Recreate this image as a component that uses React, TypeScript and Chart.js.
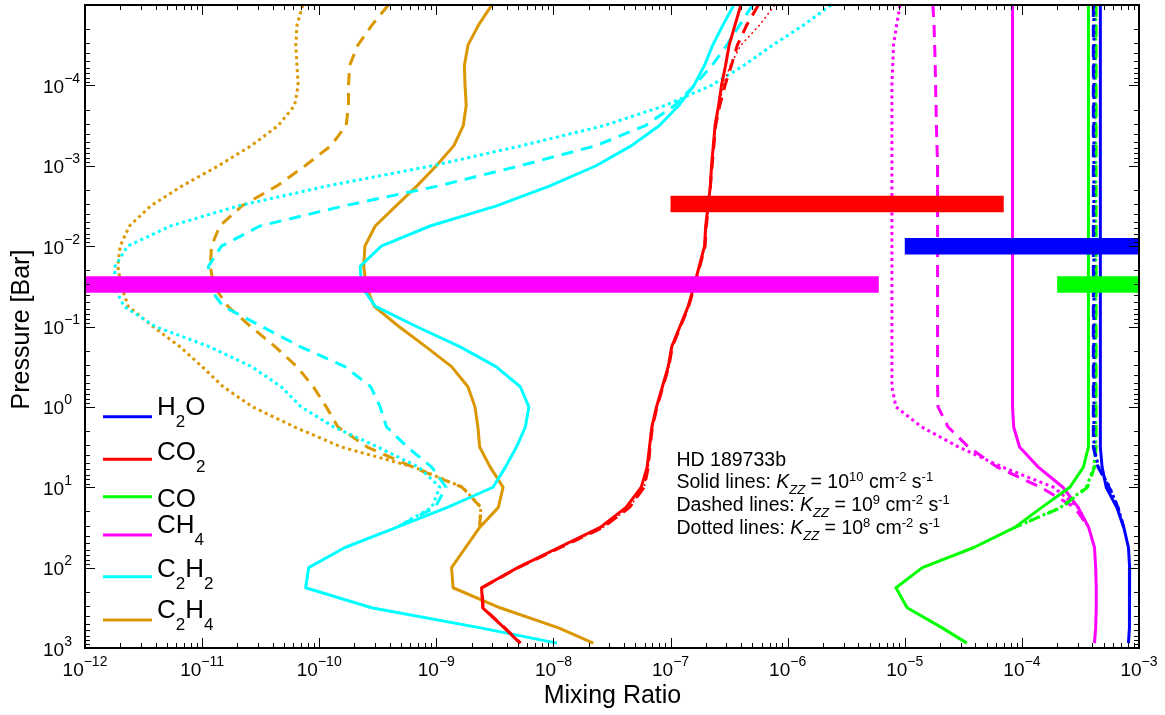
import React, { useEffect, useRef } from "react";
import { Chart, registerables } from "chart.js";

Chart.register(...registerables);

const FONT = '"Liberation Sans", Arial, Helvetica, sans-serif';

// Pressure levels (bar) shared by every model profile
const pressureBar = [
  1e-5, 1.78e-5, 3.16e-5, 5.62e-5, 1e-4, 1.78e-4, 3.16e-4, 5.62e-4, 1e-3, 1.78e-3, 3.16e-3,
  5.62e-3, 1e-2, 1.78e-2, 3.16e-2, 5.62e-2, 0.1, 0.178, 0.316, 0.562, 1, 1.78, 3.16, 5.62, 10,
  17.8, 31.6, 56.2, 100, 178, 316, 562, 870,
];

// Model profiles: log10(mixing ratio) at each pressure level, null where the profile is not drawn.
// Solid: Kzz = 1e10, dashed: Kzz = 1e9, dotted: Kzz = 1e8.
const h2oSolid = [
  -3.33, -3.33, -3.33, -3.33, -3.33, -3.33, -3.33, -3.33, -3.33, -3.33, -3.33, -3.33, -3.33, -3.33,
  -3.33, -3.33, -3.33, -3.33, -3.33, -3.33, -3.33, -3.33, -3.33, -3.315, -3.28, -3.19, -3.13, -3.09,
  -3.08, -3.08, -3.08, -3.085, -3.09,
];
const h2oDashed = [
  -3.39, -3.39, -3.39, -3.39, -3.39, -3.39, -3.39, -3.39, -3.39, -3.39, -3.39, -3.39, -3.39, -3.39,
  -3.39, -3.39, -3.39, -3.39, -3.39, -3.39, -3.39, -3.39, -3.39, -3.35, -3.255, -3.18, -3.13, null,
  null, null, null, null, null,
];
const h2oDotted = [
  -3.385, -3.385, -3.385, -3.385, -3.385, -3.385, -3.385, -3.385, -3.385, -3.385, -3.385, -3.385,
  -3.385, -3.385, -3.385, -3.385, -3.385, -3.385, -3.385, -3.385, -3.385, -3.385, -3.385, -3.345,
  -3.25, -3.18, -3.13, null, null, null, null, null, null,
];

const co2Solid = [
  -6.4, -6.45, -6.5, -6.53, -6.565, -6.59, -6.62, -6.635, -6.65, -6.66, -6.68, -6.7, -6.71, -6.755,
  -6.8, -6.85, -6.92, -6.99, -7.02, -7.07, -7.12, -7.16, -7.18, -7.2, -7.25, -7.38, -7.6, -7.955,
  -8.305, -8.614, -8.604, -8.42, -8.285,
];
const co2Dashed = [
  -6.25, -6.35, -6.43, -6.48, -6.535, -6.58, -6.615, -6.63, -6.645, -6.66, -6.675, -6.695, -6.705,
  -6.75, -6.795, -6.845, -6.915, -6.985, -7.015, -7.065, -7.115, -7.155, -7.175, -7.19, -7.225,
  -7.35, -7.575, -7.94, -8.3, -8.61, -8.6, -8.415, -8.28,
];
const co2Dotted = [
  -6.11, -6.24, -6.4, -6.49, -6.55, -6.585, -6.615, -6.63, -6.645, -6.66, -6.675, -6.695, -6.705,
  -6.75, -6.795, -6.845, -6.915, -6.985, -7.015, -7.065, -7.115, -7.155, -7.175, -7.19, -7.225,
  -7.35, -7.575, -7.94, -8.3, -8.61, -8.6, -8.415, -8.28,
];

const coSolid = [
  -3.432, -3.432, -3.432, -3.432, -3.432, -3.432, -3.432, -3.432, -3.432, -3.432, -3.432, -3.432,
  -3.432, -3.432, -3.432, -3.432, -3.432, -3.432, -3.432, -3.432, -3.432, -3.432, -3.432, -3.475,
  -3.59, -3.83, -4.06, -4.41, -4.85, -5.075, -4.98, -4.68, -4.47,
];
const coDashed = [
  -3.366, -3.366, -3.366, -3.366, -3.366, -3.366, -3.366, -3.366, -3.366, -3.366, -3.366, -3.366,
  -3.366, -3.366, -3.366, -3.366, -3.366, -3.366, -3.366, -3.366, -3.366, -3.366, -3.366, -3.38,
  -3.44, -3.66, -4.06, null, null, null, null, null, null,
];
const coDotted = [
  -3.37, -3.37, -3.37, -3.37, -3.37, -3.37, -3.37, -3.37, -3.37, -3.37, -3.37, -3.37, -3.37, -3.37,
  -3.37, -3.37, -3.37, -3.37, -3.37, -3.37, -3.37, -3.37, -3.37, -3.385, -3.45, -3.67, -4.06, null,
  null, null, null, null, null,
];

const ch4Solid = [
  -4.08, -4.08, -4.08, -4.08, -4.08, -4.08, -4.08, -4.08, -4.08, -4.08, -4.08, -4.08, -4.08, -4.08,
  -4.08, -4.08, -4.08, -4.08, -4.08, -4.08, -4.08, -4.07, -4.02, -3.86, -3.65, -3.52, -3.43, -3.38,
  -3.37, -3.365, -3.365, -3.37, -3.38,
];
const ch4Dashed = [
  -4.76, -4.75, -4.745, -4.74, -4.737, -4.733, -4.73, -4.725, -4.72, -4.72, -4.72, -4.72, -4.72,
  -4.72, -4.72, -4.72, -4.72, -4.72, -4.72, -4.72, -4.716, -4.63, -4.456, -4.21, -3.84, -3.55, -3.43,
  null, null, null, null, null, null,
];
const ch4Dotted = [
  -5.04, -5.07, -5.096, -5.103, -5.11, -5.11, -5.11, -5.11, -5.11, -5.11, -5.11, -5.11, -5.11, -5.11,
  -5.11, -5.11, -5.11, -5.11, -5.11, -5.11, -5.075, -4.855, -4.54, -4.165, -3.73, -3.52, -3.43, null,
  null, null, null, null, null,
];

const c2h2Solid = [
  -6.46, -6.553, -6.64, -6.71, -6.8, -6.93, -7.095, -7.333, -7.636, -8.03, -8.486, -9.054, -9.47,
  -9.65, -9.64, -9.52, -9.17, -8.8, -8.49, -8.283, -8.21, -8.24, -8.316, -8.41, -8.516, -8.905,
  -9.34, -9.78, -10.09, -10.116, -9.553, -8.624, -7.97,
];
const c2h2Dashed = [
  -6.3, -6.41, -6.52, -6.645, -6.795, -6.966, -7.214, -7.636, -8.285, -8.98, -9.79, -10.507,
  -10.835, -10.945, -10.95, -10.82, -10.49, -10.164, -9.78, -9.56, -9.48, -9.425, -9.248, -9.04,
  -8.917, -9.01, -9.34, null, null, null, null, null, null,
];
const c2h2Dotted = [
  -5.63, -5.865, -6.128, -6.373, -6.651, -7.047, -7.566, -8.27, -9.033, -9.929, -10.693, -11.27,
  -11.637, -11.743, -11.752, -11.667, -11.4, -10.94, -10.577, -10.325, -10.155, -9.875, -9.5, -9.15,
  -8.97, -9.04, -9.34, null, null, null, null, null, null,
];

const c2h4Solid = [
  -8.527, -8.64, -8.73, -8.76, -8.755, -8.745, -8.77, -8.85, -9.0, -9.165, -9.344, -9.522, -9.61,
  -9.62, -9.6, -9.53, -9.32, -9.09, -8.87, -8.73, -8.67, -8.645, -8.63, -8.54, -8.43, -8.47, -8.63,
  -8.75, -8.87, -8.857, -8.456, -7.956, -7.66,
];
const c2h4Dashed = [
  -9.41, -9.55, -9.67, -9.74, -9.75, -9.75, -9.77, -9.9, -10.12, -10.36, -10.66, -10.85, -10.92,
  -10.93, -10.9, -10.78, -10.586, -10.377, -10.19, -10.05, -9.94, -9.84, -9.59, -9.2, -8.78, -8.62,
  -8.63, null, null, null, null, null, null,
];
const c2h4Dotted = [
  -10.14, -10.19, -10.2, -10.19, -10.18, -10.21, -10.35, -10.58, -10.86, -11.17, -11.44, -11.62,
  -11.7, -11.72, -11.69, -11.63, -11.42, -11.19, -11.0, -10.82, -10.57, -10.21, -9.81, -9.19,
  -8.775, -8.62, -8.63, null, null, null, null, null, null,
];

// Observational constraints drawn as horizontal bars
const obsSpecies = ["CO2", "H2O", "CH4", "CO"];
const obsPressure = [3e-3, 1e-2, 3e-2, 3e-2];
const obsFrom = [1e-7, 1e-5, 1e-12, 2e-4];
const obsTo = [7e-5, 1e-3, 6e-6, 1e-3];

// Axis ranges and tick decades
const xMin = 1e-12;
const xMax = 1e-3;
const yMin = 1e-5;
const yMax = 1e3;
const xLabelDecades = [-12, -11, -10, -9, -8, -7, -6, -5, -4, -3];
const yLabelDecades = [-4, -3, -2, -1, 0, 1, 2, 3];

const COLORS: Record<string, string> = {
  H2O: "#0000ff",
  CO2: "#ff0000",
  CO: "#00ff00",
  CH4: "#ff00ff",
  C2H2: "#00ffff",
  C2H4: "#db9700",
};

type Run = { t: string; size: number; dy?: number; italic?: boolean };

// Legend entries, with chemical subscripts
const legendEntries: { key: string; runs: Run[] }[] = [
  { key: "H2O", runs: [{ t: "H", size: 26 }, { t: "2", size: 17, dy: 12 }, { t: "O", size: 26 }] },
  { key: "CO2", runs: [{ t: "CO", size: 26 }, { t: "2", size: 17, dy: 12 }] },
  { key: "CO", runs: [{ t: "CO", size: 26 }] },
  { key: "CH4", runs: [{ t: "CH", size: 26 }, { t: "4", size: 17, dy: 12 }] },
  {
    key: "C2H2",
    runs: [{ t: "C", size: 26 }, { t: "2", size: 17, dy: 12 }, { t: "H", size: 26 }, { t: "2", size: 17, dy: 12 }],
  },
  {
    key: "C2H4",
    runs: [{ t: "C", size: 26 }, { t: "2", size: 17, dy: 12 }, { t: "H", size: 26 }, { t: "4", size: 17, dy: 12 }],
  },
];
const legendLineY = [416.7, 459.3, 496.7, 535, 576.7, 620];
const legendTextY = [415, 460, 506.7, 533.3, 576.7, 618.3];

const kzzLine = (label: string, exp: string): Run[] => [
  { t: label, size: 19.5 },
  { t: "K", size: 19.5, italic: true },
  { t: "ZZ", size: 13, dy: 6, italic: true },
  { t: " = 10", size: 19.5 },
  { t: exp, size: 13, dy: -7 },
  { t: " cm", size: 19.5 },
  { t: "-2", size: 13, dy: -7 },
  { t: " s", size: 19.5 },
  { t: "-1", size: 13, dy: -7 },
];
const noteLines: Run[][] = [
  [{ t: "HD 189733b", size: 19.5 }],
  kzzLine("Solid lines: ", "10"),
  kzzLine("Dashed lines: ", "9"),
  kzzLine("Dotted lines: ", "8"),
];
const noteY = [465.5, 488, 511, 533.5];

function runsWidth(ctx: CanvasRenderingContext2D, runs: Run[]) {
  let w = 0;
  for (const r of runs) {
    ctx.font = `${r.italic ? "italic " : ""}${r.size}px ${FONT}`;
    w += ctx.measureText(r.t).width;
  }
  return w;
}

function drawRuns(ctx: CanvasRenderingContext2D, x: number, y: number, runs: Run[]) {
  let cx = x;
  for (const r of runs) {
    ctx.font = `${r.italic ? "italic " : ""}${r.size}px ${FONT}`;
    ctx.fillText(r.t, cx, y + (r.dy || 0));
    cx += ctx.measureText(r.t).width;
  }
}

function powerRuns(n: number): Run[] {
  const e = n < 0 ? "\u2212" + String(-n) : String(n);
  return [
    { t: "10", size: 19 },
    { t: e, size: 14, dy: -10 },
  ];
}

const toPoints = (logs: (number | null)[]) =>
  logs
    .map((v, i) => (v === null ? null : { x: Math.pow(10, v), y: pressureBar[i] }))
    .filter((p) => p !== null);

const decorations = {
  id: "decorations",
  afterDatasetsDraw(chart: any) {
    const { ctx, chartArea: a, scales } = chart;
    const xs = scales.x;
    const ys = scales.y;
    ctx.save();
    ctx.strokeStyle = "#000";
    ctx.fillStyle = "#000";
    ctx.lineWidth = 1;
    ctx.textBaseline = "alphabetic";
    ctx.textAlign = "left";

    // inward ticks on all four sides
    ctx.beginPath();
    for (let n = -12; n <= -3; n++) {
      for (let k = 1; k <= 9; k++) {
        const v = k * Math.pow(10, n);
        if (v > xMax * 1.0001) break;
        const px = Math.round(xs.getPixelForValue(v)) + 0.5;
        const len = k === 1 ? 10 : 5;
        ctx.moveTo(px, a.bottom);
        ctx.lineTo(px, a.bottom - len);
        ctx.moveTo(px, a.top);
        ctx.lineTo(px, a.top + len);
      }
    }
    for (let n = -5; n <= 3; n++) {
      for (let k = 1; k <= 9; k++) {
        const v = k * Math.pow(10, n);
        if (v > yMax * 1.0001) break;
        const py = Math.round(ys.getPixelForValue(v)) + 0.5;
        const len = k === 1 ? 10 : 5;
        ctx.moveTo(a.left, py);
        ctx.lineTo(a.left + len, py);
        ctx.moveTo(a.right, py);
        ctx.lineTo(a.right - len, py);
      }
    }
    ctx.stroke();

    // plot frame
    ctx.lineWidth = 2;
    ctx.strokeRect(a.left, a.top, a.right - a.left, a.bottom - a.top);

    // tick labels
    for (const n of xLabelDecades) {
      const runs = powerRuns(n);
      const px = xs.getPixelForValue(Math.pow(10, n));
      drawRuns(ctx, px - runsWidth(ctx, runs) / 2, a.bottom + 28, runs);
    }
    for (const n of yLabelDecades) {
      const py = ys.getPixelForValue(Math.pow(10, n));
      drawRuns(ctx, 43, py + 7.5, powerRuns(n));
    }

    // axis titles
    ctx.font = `25px ${FONT}`;
    ctx.textAlign = "center";
    ctx.fillText("Mixing Ratio", (a.left + a.right) / 2 + 0.5, 703);
    ctx.save();
    ctx.translate(29, (a.top + a.bottom) / 2 + 3);
    ctx.rotate(-Math.PI / 2);
    ctx.fillText("Pressure [Bar]", 0, 0);
    ctx.restore();
    ctx.textAlign = "left";

    // legend
    legendEntries.forEach((entry, i) => {
      ctx.strokeStyle = COLORS[entry.key];
      ctx.lineWidth = 3;
      ctx.beginPath();
      ctx.moveTo(103, legendLineY[i]);
      ctx.lineTo(152, legendLineY[i]);
      ctx.stroke();
      ctx.fillStyle = "#000";
      drawRuns(ctx, 157, legendTextY[i], entry.runs);
    });

    // model description
    noteLines.forEach((runs, i) => drawRuns(ctx, 676.5, noteY[i], runs));

    ctx.restore();
  },
};

export default function App() {
  const canvasRef = useRef<HTMLCanvasElement | null>(null);

  useEffect(() => {
    const canvas = canvasRef.current;
    if (!canvas) return;

    const profile = (key: string, logs: (number | null)[], style: "solid" | "dashed" | "dotted", order: number) => ({
      label: `${key} ${style}`,
      data: toPoints(logs),
      borderColor: COLORS[key],
      backgroundColor: COLORS[key],
      borderWidth: style === "dotted" && key === "CO2" ? 1.5 : 3,
      borderDash: style === "dashed" ? [12, 8] : style === "dotted" ? (key === "CO2" ? [2, 3] : [3, 3.5]) : [],
      borderCapStyle: "butt",
      borderJoinStyle: "round",
      pointRadius: 0,
      fill: false,
      tension: 0,
      clip: 0,
      order,
    });

    const profiles = [
      ["H2O", h2oSolid, h2oDashed, h2oDotted],
      ["CO2", co2Solid, co2Dashed, co2Dotted],
      ["CO", coSolid, coDashed, coDotted],
      ["CH4", ch4Solid, ch4Dashed, ch4Dotted],
      ["C2H2", c2h2Solid, c2h2Dashed, c2h2Dotted],
      ["C2H4", c2h4Solid, c2h4Dashed, c2h4Dotted],
    ] as [string, (number | null)[], (number | null)[], (number | null)[]][];

    const curveSets: any[] = [];
    profiles.forEach(([key, solid, dashed, dotted]) => {
      curveSets.push(profile(key, dotted, "dotted", 2));
      curveSets.push(profile(key, dashed, "dashed", 2));
      curveSets.push(profile(key, solid, "solid", 2));
    });

    const barSets = obsSpecies.map((key, i) => ({
      label: `${key} constraint`,
      data: [
        { x: obsFrom[i], y: obsPressure[i] },
        { x: obsTo[i], y: obsPressure[i] },
      ],
      borderColor: COLORS[key],
      borderWidth: 16.5,
      borderCapStyle: "butt",
      pointRadius: 0,
      fill: false,
      clip: 0,
      order: 1,
    }));

    const chart = new Chart(canvas, {
      type: "line",
      data: { datasets: [...barSets, ...curveSets] as any },
      options: {
        responsive: false,
        animation: false,
        events: [],
        layout: { padding: { left: 85, top: 5, right: 26, bottom: 67 } },
        plugins: { legend: { display: false }, tooltip: { enabled: false } },
        scales: {
          x: { type: "logarithmic", min: xMin, max: xMax, display: false },
          y: { type: "logarithmic", min: yMin, max: yMax, reverse: true, display: false },
        },
      },
      plugins: [decorations],
    });

    return () => chart.destroy();
  }, []);

  return (
    <div style={{ position: "fixed", left: 0, top: 0, width: 1165, height: 715, background: "#fff" }}>
      <canvas ref={canvasRef} width={1165} height={715} />
    </div>
  );
}
